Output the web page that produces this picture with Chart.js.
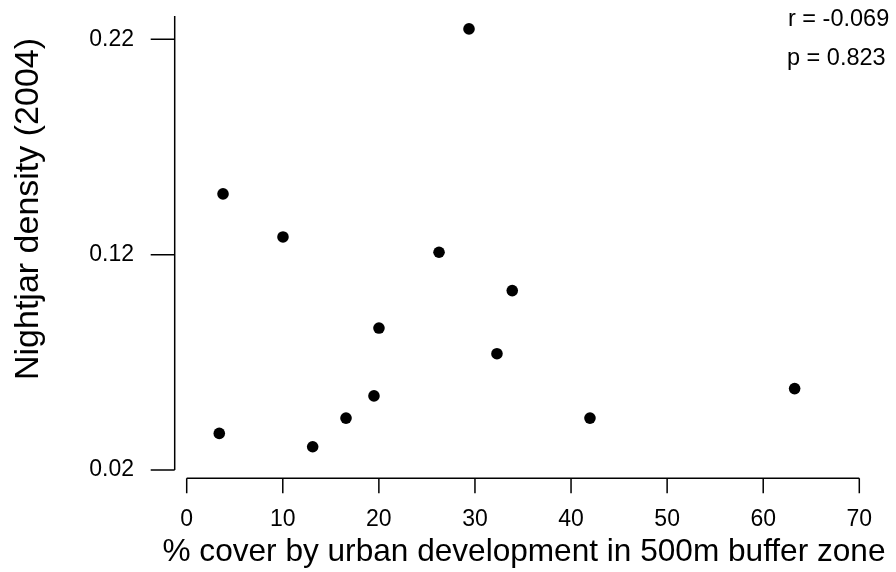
<!DOCTYPE html>
<html lang="en">
<head>
<meta charset="UTF-8">
<title>Nightjar density vs urban cover</title>
<style>
    html, body { margin: 0; padding: 0; background: #fff; }
    canvas { display: block; }
</style>
</head>
<body>
<canvas id="myChart" width="896" height="572"></canvas>

<script src="https://cdn.jsdelivr.net/npm/chart.js"></script>
<script>
// data
var urbanCover      = [3.39, 3.78, 10.02, 13.11, 16.58, 19.49, 20.01, 26.26, 29.38, 32.29, 33.88, 41.97, 63.27];
var nightjarDensity = [0.0370, 0.1482, 0.1282, 0.0308, 0.0441, 0.0544, 0.0859, 0.1211, 0.2248, 0.0740, 0.1033, 0.0441, 0.0578];

var xTicks = [0, 10, 20, 30, 40, 50, 60, 70];
var xTickLabels = ['0', '10', '20', '30', '40', '50', '60', '70'];
var yTicks = [0.02, 0.12, 0.22];
var yTickLabels = ['0.02', '0.12', '0.22'];

var statLabels = ['r = -0.069', 'p = 0.823'];
var xTitle = '% cover by urban development in 500m buffer zone';
var yTitle = 'Nightjar density (2004)';

var FONT = '"Liberation Sans", Arial, Helvetica, sans-serif';

var points = urbanCover.map(function (x, i) { return { x: x, y: nightjarDensity[i] }; });

// R style detached axes, titles and the r / p note
var baseAxes = {
    id: 'baseAxes',
    beforeDatasetsDraw: function (chart) {
        var ctx = chart.ctx;
        var xs = chart.scales.x, ys = chart.scales.y, area = chart.chartArea;
        ctx.save();
        ctx.strokeStyle = '#000';
        ctx.lineWidth = 1.5;
        ctx.beginPath();
        // y axis
        var yx = xs.getPixelForValue(xTicks[0]) - 12;
        ctx.moveTo(yx, area.top);
        ctx.lineTo(yx, ys.getPixelForValue(yTicks[0]));
        yTicks.forEach(function (v) {
            var p = ys.getPixelForValue(v);
            ctx.moveTo(yx, p);
            ctx.lineTo(yx - 24, p);
        });
        // x axis
        var xy = area.bottom + 8.3;
        ctx.moveTo(xs.getPixelForValue(xTicks[0]), xy);
        ctx.lineTo(xs.getPixelForValue(xTicks[xTicks.length - 1]), xy);
        xTicks.forEach(function (v) {
            var p = xs.getPixelForValue(v);
            ctx.moveTo(p, xy);
            ctx.lineTo(p, xy + 15);
        });
        ctx.stroke();

        // axis titles
        ctx.fillStyle = '#000';
        ctx.font = '31.6px ' + FONT;
        ctx.textAlign = 'center';
        ctx.textBaseline = 'alphabetic';
        ctx.fillText(xTitle, 524, 561);
        ctx.save();
        ctx.font = '34px ' + FONT;
        ctx.translate(38, 209);
        ctx.rotate(-Math.PI / 2);
        ctx.fillText(yTitle, 0, 0);
        ctx.restore();

        // correlation note
        ctx.font = '23.5px ' + FONT;
        ctx.textAlign = 'left';
        ctx.fillText(statLabels[0], 788, 26);
        ctx.fillText(statLabels[1], 787, 65);
        ctx.restore();
    }
};

var ctx = document.getElementById('myChart').getContext('2d');
window.myChart = new Chart(ctx, {
    type: 'scatter',
    data: {
        datasets: [{
            data: points,
            backgroundColor: '#000',
            borderWidth: 0,
            pointRadius: 5.8,
            pointHoverRadius: 5.8,
            clip: false
        }]
    },
    options: {
        responsive: false,
        animation: false,
        devicePixelRatio: 1,
        layout: { padding: { top: 16, right: 36.7, bottom: 0, left: 0 } },
        plugins: {
            legend: { display: false },
            tooltip: { enabled: false }
        },
        scales: {
            x: {
                type: 'linear',
                min: 0,
                max: 70,
                grid: { display: false, drawTicks: false },
                border: { display: false },
                afterBuildTicks: function (scale) {
                    scale.ticks = xTicks.map(function (v) { return { value: v }; });
                },
                afterFit: function (scale) {
                    scale.height = 102;
                    scale.paddingLeft = 0;
                    scale.paddingRight = 0;
                },
                ticks: {
                    autoSkip: false,
                    maxRotation: 0,
                    padding: 36,
                    color: '#000',
                    font: { family: FONT, size: 23 },
                    callback: function (value) {
                        var i = xTicks.indexOf(value);
                        return i >= 0 ? xTickLabels[i] : '';
                    }
                }
            },
            y: {
                type: 'linear',
                min: 0.02,
                max: 0.2308,
                grid: { display: false, drawTicks: false },
                border: { display: false },
                afterBuildTicks: function (scale) {
                    scale.ticks = yTicks.map(function (v) { return { value: v }; });
                },
                afterFit: function (scale) {
                    scale.width = 186.7;
                    scale.paddingTop = 0;
                    scale.paddingBottom = 0;
                },
                ticks: {
                    autoSkip: false,
                    padding: 52.7,
                    color: '#000',
                    font: { family: FONT, size: 23 },
                    callback: function (value) {
                        var i = yTicks.indexOf(value);
                        return i >= 0 ? yTickLabels[i] : '';
                    }
                }
            }
        }
    },
    plugins: [baseAxes]
});
</script>
</body>
</html>
